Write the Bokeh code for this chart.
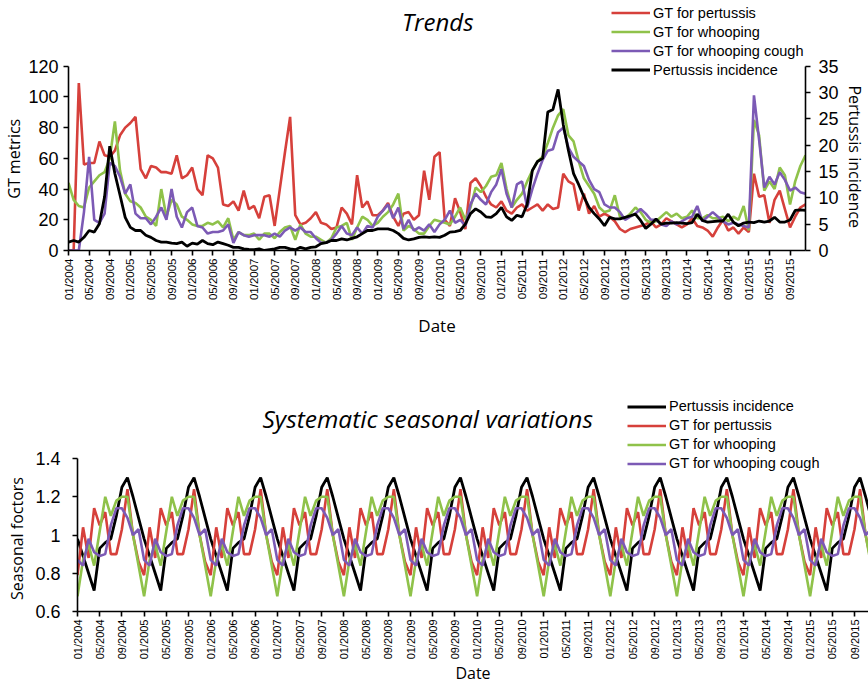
import math
from bokeh.plotting import figure
from bokeh.models import (Range1d, LinearAxis, FixedTicker, Legend, LegendItem,
                          Label, CustomJSTickFormatter)
from bokeh.embed import file_html
from bokeh.resources import INLINE

# ---------------- data ----------------
years = list(range(2004, 2016))
month_labels = [f"{m:02d}/{y}" for y in years for m in range(1, 13)]   # 01/2004 .. 12/2015
months = list(range(len(month_labels)))
tick_months = months[::4]
tick_labels = {i: month_labels[i] for i in tick_months}

gt_pertussis = [
    0, 0, 109, 56, 57, 57, 71, 62, 61, 65, 75, 80,
    83, 87, 53, 47, 55, 54, 51, 51, 50, 62, 47, 49,
    54, 40, 36, 62, 60, 54, 30, 29, 32, 26, 39, 27,
    29, 21, 35, 36, 16, 40, 64, 87, 23, 17, 18, 21,
    25, 18, 17, 14, 15, 28, 24, 17, 49, 28, 32, 23,
    23, 26, 31, 22, 16, 24, 25, 20, 23, 52, 33, 61,
    64, 20, 16, 34, 25, 14, 44, 47, 42, 35, 30, 28,
    32, 26, 24, 28, 30, 26, 28, 30, 26, 30, 27, 28,
    50, 45, 43, 26, 37, 24, 29, 22, 24, 22, 19, 14,
    12, 14, 15, 16, 17, 19, 15, 17, 21, 19, 17, 15,
    17, 21, 16, 15, 13, 9, 15, 20, 13, 15, 11, 15,
    12, 50, 35, 36, 18, 33, 39, 27, 15, 22, 28, 30,
]
gt_whooping = [
    44, 33, 29, 28, 41, 45, 49, 51, 60, 84, 52, 37,
    32, 31, 28, 22, 20, 16, 40, 22, 33, 30, 22, 20,
    17, 16, 16, 18, 17, 19, 15, 21, 7, 12, 10, 10,
    11, 7, 11, 11, 8, 12, 15, 16, 7, 17, 11, 9,
    9, 7, 5, 8, 15, 16, 18, 7, 15, 22, 20, 16,
    18, 22, 25, 30, 37, 13, 16, 14, 11, 11, 16, 20,
    19, 18, 17, 22, 28, 20, 28, 41, 38, 42, 48, 49,
    57, 40, 28, 33, 37, 45, 52, 58, 61, 70, 80, 88,
    92, 75, 71, 58, 47, 42, 37, 28, 25, 26, 36, 22,
    21, 24, 28, 25, 20, 18, 19, 22, 25, 22, 24, 21,
    22, 26, 21, 21, 23, 21, 21, 22, 19, 22, 20, 29,
    13, 85, 75, 39, 45, 40, 54, 49, 30, 45, 55, 62,
]
gt_whooping_cough = [
    0, 0, 0, 25, 61, 20, 18, 24, 57, 55, 48, 37,
    43, 24, 21, 21, 17, 22, 28, 20, 40, 22, 15, 25,
    28, 16, 15, 11, 12, 12, 13, 17, 5, 12, 10, 9,
    10, 10, 10, 9, 11, 9, 13, 15, 13, 15, 12, 12,
    8, 5, 5, 7, 11, 16, 11, 10, 15, 11, 16, 15,
    22, 26, 30, 21, 28, 14, 20, 13, 15, 13, 17, 12,
    17, 20, 26, 18, 20, 16, 30, 37, 33, 30, 38, 43,
    53, 37, 28, 43, 45, 28, 40, 50, 59, 65, 66, 77,
    80, 67, 61, 58, 55, 46, 40, 38, 30, 28, 28, 25,
    20, 22, 24, 27, 24, 20, 20, 17, 16, 19, 17, 19,
    21, 22, 29, 19, 22, 25, 22, 19, 17, 18, 17, 16,
    15, 101, 72, 41, 48, 43, 51, 46, 39, 41, 38, 37,
]
pertussis_incidence = [
    1.6, 1.9, 1.6, 2.5, 3.8, 3.5, 5.1, 10.2, 19.8, 14.6, 10.5, 6.3,
    4.4, 3.8, 3.8, 2.9, 2.5, 1.9, 1.6, 1.6, 1.4, 1.3, 1.6, 0.8,
    1.4, 1.2, 1.9, 1.3, 1.1, 1.6, 1.3, 1.0, 0.6, 0.6, 0.3, 0.2,
    0.15, 0.3, 0.0, 0.15, 0.3, 0.6, 0.6, 0.3, 0.15, 0.6, 0.3, 0.6,
    0.7, 1.3, 1.5, 1.9, 1.9, 2.2, 2.0, 2.3, 2.6, 3.2, 3.8, 3.8,
    4.1, 4.1, 4.1, 3.8, 3.2, 2.3, 2.0, 2.2, 2.5, 2.6, 2.5, 2.6,
    2.5, 2.9, 3.5, 3.6, 3.8, 5.0, 7.0, 7.9, 7.3, 6.4, 6.3, 7.0,
    8.2, 6.4, 5.7, 6.7, 6.4, 8.8, 15.2, 16.9, 17.5, 26.3, 26.8, 30.6,
    23.9, 19.0, 14.6, 12.5, 10.2, 8.2, 7.0, 6.0, 4.7, 6.3, 6.0, 6.0,
    6.3, 6.6, 6.9, 5.7, 4.2, 5.0, 6.0, 5.0, 5.2, 5.2, 5.3, 5.2,
    5.1, 5.3, 6.9, 5.7, 5.4, 5.5, 5.6, 5.6, 6.9, 5.4, 4.7, 5.2,
    5.4, 5.3, 5.6, 5.4, 5.6, 6.3, 5.4, 5.4, 5.8, 7.6, 7.7, 7.6,
]

# seasonal factors, January .. December (identical every year)
seasonal_incidence = [0.98, 0.89, 0.80, 0.71, 0.93, 0.96, 0.98, 1.10, 1.25, 1.30, 1.20, 1.09]
seasonal_gt_pertussis = [0.79, 1.04, 0.88, 1.14, 1.05, 1.12, 0.90, 0.90, 1.03, 1.24, 1.00, 0.86]
seasonal_gt_whooping = [0.68, 0.87, 0.95, 0.84, 1.02, 1.20, 1.10, 1.18, 1.20, 1.20, 1.00, 0.84]
seasonal_gt_whooping_cough = [0.87, 0.84, 0.98, 0.91, 0.89, 0.90, 1.05, 1.14, 1.14, 1.09, 1.00, 1.03]

RED = "#d6403b"
GREEN = "#8fc24a"
PURPLE = "#7c5ab5"
BLACK = "#000000"

TICK_FONT = "Liberation Sans"
LABEL_FONT = "Open Sans"
NB = "\u00a0"   # non-breaking space, used to shift axis titles along their axis


def style_axis(ax, size="18px"):
    ax.axis_line_color = "black"
    ax.axis_line_width = 1.6
    ax.major_tick_line_color = "black"
    ax.major_tick_line_width = 1.6
    ax.major_tick_in = 0
    ax.major_tick_out = 5
    ax.minor_tick_line_color = None
    ax.major_label_text_font = TICK_FONT
    ax.major_label_text_font_size = size
    ax.major_label_text_color = "black"
    ax.major_label_standoff = 6
    ax.axis_label_text_font = LABEL_FONT
    ax.axis_label_text_font_style = "normal"
    ax.axis_label_text_font_size = "16px"
    ax.axis_label_text_color = "black"


def style_xaxis(ax, size):
    style_axis(ax, size)
    ax.ticker = FixedTicker(ticks=tick_months)
    ax.major_label_overrides = tick_labels
    ax.major_label_orientation = math.pi / 2
    ax.major_label_standoff = 3
    ax.axis_label = "Date"


def style_legend(lg):
    lg.label_text_font = TICK_FONT
    lg.label_text_font_size = "14.5px"
    lg.label_text_color = "black"
    lg.glyph_width = 39
    lg.glyph_height = 17
    lg.label_height = 17
    lg.label_standoff = 3
    lg.spacing = 2
    lg.padding = 0
    lg.margin = 0
    lg.border_line_color = None
    lg.background_fill_alpha = 0


# ---------------- top: Trends ----------------
W = 868
H1 = 357
TOP_LEFT = 68
TOP_FRAME_H = 250      # frame height in px (frame starts at the top of the figure)
TOP_SCALE = 184.3      # px between 0 and 120
p1 = figure(width=W, height=H1, output_backend="svg", toolbar_location=None,
            title=None,
            x_range=Range1d(0, 143),
            y_range=Range1d(0, 120 * TOP_FRAME_H / TOP_SCALE),
            min_border_left=TOP_LEFT, min_border_right=63, min_border_top=0,
            min_border_bottom=H1 - TOP_FRAME_H)
p1.extra_y_ranges = {"inc": Range1d(0, 35 * TOP_FRAME_H / TOP_SCALE)}
p1.outline_line_color = None
p1.grid.visible = False

r_red = p1.line(months, gt_pertussis, color=RED, line_width=2.6)
r_green = p1.line(months, gt_whooping, color=GREEN, line_width=2.6)
r_purple = p1.line(months, gt_whooping_cough, color=PURPLE, line_width=2.6)
r_black = p1.line(months, pertussis_incidence, color=BLACK, line_width=2.8,
                  y_range_name="inc")

style_xaxis(p1.xaxis[0], "11.5px")
p1.xaxis[0].axis_label_text_font_size = "17px"
p1.xaxis[0].axis_label_standoff = 11
ly = p1.yaxis[0]
style_axis(ly)
ly.ticker = FixedTicker(ticks=[0, 20, 40, 60, 80, 100, 120])
ly.bounds = (0, 120)
ly.axis_label = "GT metrics" + NB * 16
ly.axis_label_standoff = 0
ly.major_label_standoff = 5

ry = LinearAxis(y_range_name="inc")
style_axis(ry)
ry.ticker = FixedTicker(ticks=[0, 5, 10, 15, 20, 25, 30, 35])
ry.bounds = (0, 35)
ry.major_label_standoff = 8
ry.axis_label_standoff = 2
ry.axis_label = NB * 15 + "Pertussis incidence"
p1.add_layout(ry, "right")

p1.add_layout(Label(x=(437 - TOP_LEFT) / 5.15, y=(TOP_FRAME_H - 21) * 120 / TOP_SCALE,
                    text="Trends", text_align="center",
                    text_baseline="middle", text_font=LABEL_FONT,
                    text_font_style="italic", text_font_size="24px",
                    text_color="black"))

leg1 = Legend(items=[
    LegendItem(label="GT for pertussis", renderers=[r_red]),
    LegendItem(label="GT for whooping", renderers=[r_green]),
    LegendItem(label="GT for whooping cough", renderers=[r_purple]),
    LegendItem(label="Pertussis incidence", renderers=[r_black]),
], location=(611 - TOP_LEFT, 172))
style_legend(leg1)
p1.add_layout(leg1, "center")

# ---------------- bottom: seasonal factors ----------------
s_inc = [seasonal_incidence[i % 12] for i in months]
s_per = [seasonal_gt_pertussis[i % 12] for i in months]
s_who = [seasonal_gt_whooping[i % 12] for i in months]
s_wc = [seasonal_gt_whooping_cough[i % 12] for i in months]

H2 = 700 - H1
BOT_LEFT = 77
BOT_BOTTOM = 89
BOT_FRAME_H = H2 - BOT_BOTTOM      # frame height in px
BOT_TOP14 = 458 - H1               # y of the 1.4 tick inside this figure
BOT_SCALE = BOT_FRAME_H - BOT_TOP14  # px between 0.6 and 1.4
PX_MONTH = 5.55
p2 = figure(width=W, height=H2, output_backend="svg", toolbar_location=None,
            title=None,
            x_range=Range1d(0, (W - BOT_LEFT) / PX_MONTH),
            y_range=Range1d(0.6, 0.6 + 0.8 * BOT_FRAME_H / BOT_SCALE),
            min_border_left=BOT_LEFT, min_border_right=0, min_border_top=0,
            min_border_bottom=BOT_BOTTOM)
p2.outline_line_color = None
p2.grid.visible = False

b_black = p2.line(months, s_inc, color=BLACK, line_width=2.8)
b_red = p2.line(months, s_per, color=RED, line_width=2.6)
b_green = p2.line(months, s_who, color=GREEN, line_width=2.6)
b_purple = p2.line(months, s_wc, color=PURPLE, line_width=2.6)

style_xaxis(p2.xaxis[0], "11px")
p2.xaxis[0].axis_label_standoff = 0
ly2 = p2.yaxis[0]
style_axis(ly2)
ly2.major_label_standoff = 12
ly2.ticker = FixedTicker(ticks=[0.6, 0.8, 1.0, 1.2, 1.4])
ly2.bounds = (0.6, 1.4)
ly2.formatter = CustomJSTickFormatter(code="return String(Math.round(tick*10)/10);")
ly2.axis_label = "Seasonal foctors" + NB * 26
ly2.axis_label_standoff = 4


def bot_y(page_y):
    return 0.6 + (BOT_FRAME_H - (page_y - H1)) * 0.8 / BOT_SCALE


p2.add_layout(Label(x=(262 - BOT_LEFT) / PX_MONTH, y=bot_y(418),
                    text="Systematic seasonal variations",
                    text_align="left", text_baseline="middle",
                    text_font=LABEL_FONT, text_font_style="italic",
                    text_font_size="24.5px", text_color="black"))

leg_top = 406 - 8.5 - H1
leg_h = 4 * 17 + 3 * 2
leg2 = Legend(items=[
    LegendItem(label="Pertussis incidence", renderers=[b_black]),
    LegendItem(label="GT for pertussis", renderers=[b_red]),
    LegendItem(label="GT for whooping", renderers=[b_green]),
    LegendItem(label="GT for whooping cough", renderers=[b_purple]),
], location=(627 - BOT_LEFT, BOT_FRAME_H - leg_top - leg_h))
style_legend(leg2)
p2.add_layout(leg2, "center")

open("out.html", "w").write(file_html([p1, p2], INLINE))
